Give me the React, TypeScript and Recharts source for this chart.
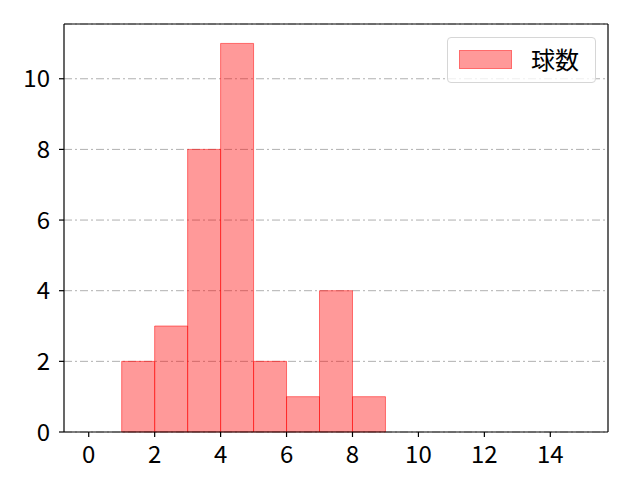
import { ComposedChart, XAxis, YAxis, CartesianGrid, ReferenceArea, ReferenceLine, Scatter } from "recharts";

const binStarts = [1, 2, 3, 4, 5, 6, 7, 8];
const counts = [2, 3, 8, 11, 2, 1, 4, 1];
const xTicks = [0, 2, 4, 6, 8, 10, 12, 14];
const yTicks = [0, 2, 4, 6, 8, 10];
const seriesName = "球数";

const X_DOMAIN: [number, number] = [-0.75, 15.75];
const Y_DOMAIN: [number, number] = [0, 11.55];
const FONT = "'Noto Sans CJK JP', 'Noto Sans', sans-serif";

const data = binStarts.map((s, i) => ({ x: s + 0.5, y: counts[i] }));

function HistLegend() {
  return (
    <div
      style={{
        position: "absolute",
        left: 447,
        top: 37,
        width: 149,
        height: 46,
        boxSizing: "border-box",
        border: "1px solid #d6d6d6",
        borderRadius: 4,
        background: "rgba(255,255,255,0.8)",
        fontFamily: FONT,
      }}
    >
      <div
        style={{
          position: "absolute",
          left: 11,
          top: 12,
          width: 53,
          height: 19,
          boxSizing: "border-box",
          background: "rgba(255,0,0,0.4)",
          border: "1px solid rgba(255,0,0,0.3)",
        }}
      />
      <span style={{ position: "absolute", left: 83, top: 7, fontSize: 24, lineHeight: "28px", color: "#000" }}>
        {seriesName}
      </span>
    </div>
  );
}

export default function App() {
  const tick = { fill: "#000", fontSize: 24, fontFamily: FONT };
  return (
    <div style={{ position: "absolute", left: 0, top: 0, width: 640, height: 480, background: "#fff" }}>
      <ComposedChart width={640} height={480} data={data} margin={{ top: 24, right: 32, left: 0, bottom: 0 }}>
        <CartesianGrid vertical={false} stroke="#b0b0b0" strokeDasharray="8 3 2 3" />
        <XAxis
          type="number"
          dataKey="x"
          domain={X_DOMAIN}
          ticks={xTicks}
          allowDataOverflow
          height={48}
          tick={tick}
          tickSize={5}
          tickMargin={9}
          axisLine={{ stroke: "#000", strokeWidth: 1.2 }}
          tickLine={{ stroke: "#000", strokeWidth: 1.2 }}
        />
        <YAxis
          type="number"
          domain={Y_DOMAIN}
          ticks={yTicks}
          allowDataOverflow
          width={64}
          tick={tick}
          tickSize={5}
          tickMargin={9}
          axisLine={{ stroke: "#000", strokeWidth: 1.2 }}
          tickLine={{ stroke: "#000", strokeWidth: 1.2 }}
        />
        <Scatter dataKey="y" fill="none" isAnimationActive={false} legendType="none" shape={() => <g />} />
        {binStarts.map((s, i) => (
          <ReferenceArea
            key={s}
            x1={s}
            x2={s + 1}
            y1={0}
            y2={counts[i]}
            fill="#ff0000"
            fillOpacity={0.4}
            stroke="#ff0000"
            strokeOpacity={0.5}
            strokeWidth={1}
          />
        ))}
        <ReferenceLine x={X_DOMAIN[1]} stroke="#000" strokeWidth={1.2} />
        <ReferenceLine y={Y_DOMAIN[1]} stroke="#000" strokeWidth={1.2} />
      </ComposedChart>
      <HistLegend />
    </div>
  );
}
